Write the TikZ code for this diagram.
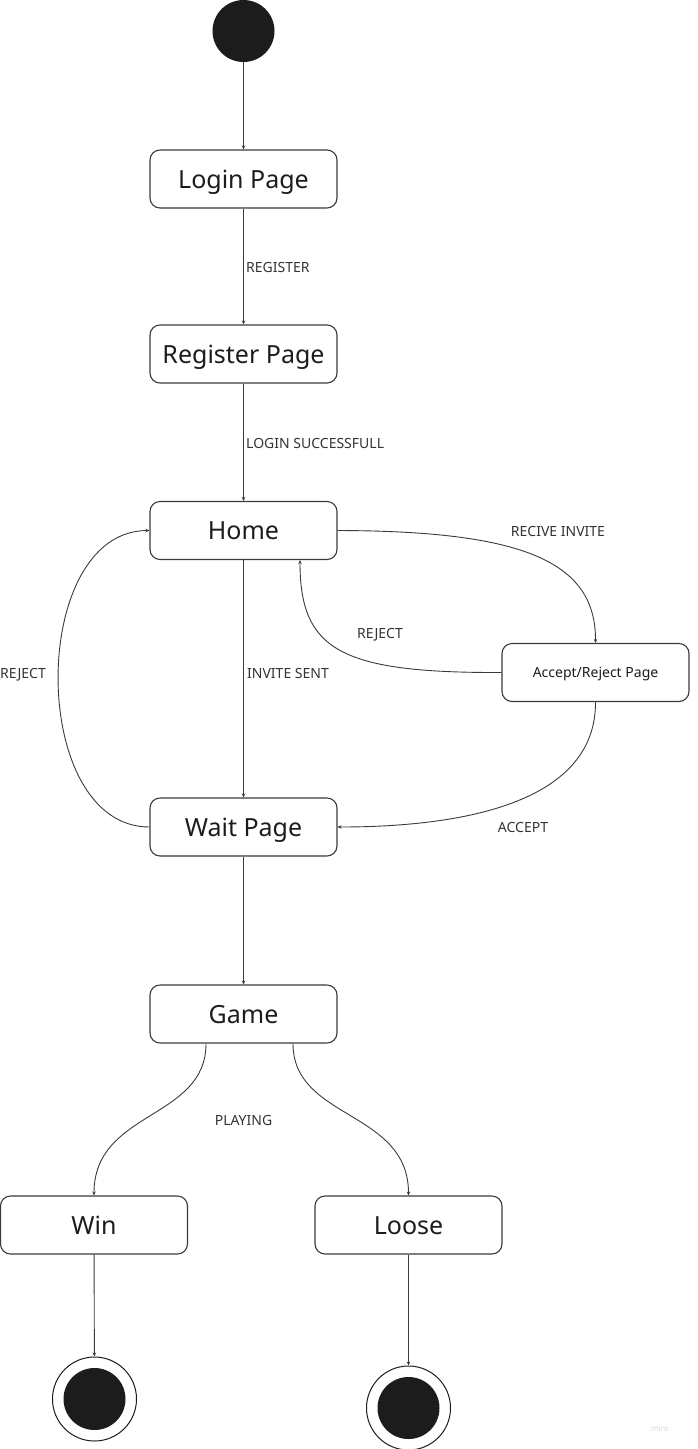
\documentclass[tikz,border=0pt]{standalone}
\usepackage{fontspec}
\setmainfont{Noto Sans}
\usetikzlibrary{arrows.meta}
\definecolor{ink}{HTML}{1C1C1C}
\definecolor{wire}{HTML}{3A3A3A}
\begin{document}
\begin{tikzpicture}[x = 1pt, y = -1pt,
        state/.style = {draw = wire, line width = 1.1pt, rounded corners = 10pt, minimum width = 187pt, minimum height = 58pt, inner sep = 0pt, text = ink, text height = 18pt, text depth = 0pt, font = \fontsize{25}{30}\selectfont},
        smallstate/.style = {state, text height = 10pt, font = \fontsize{14}{17}\selectfont},
        lbl/.style = {text = ink!90, inner sep = 0pt, text height = 10pt, text depth = 0pt, font = \fontsize{14}{17}\selectfont},
        edge/.style = {draw = wire, line width = 0.9pt, -{Stealth[length = 4pt, width = 3.5pt]}},
        startdot/.style = {circle, fill = ink, minimum size = 62pt, inner sep = 0pt},
        enddot/.style = {circle, draw = ink, line width = 1pt, minimum size = 84pt, inner sep = 0pt,
            path picture = {\fill[ink] (path picture bounding box.center) circle (31pt);}}]
        \useasboundingbox (0,0) rectangle (698,1449);
        % states
        \node[startdot] (start) at (243.5,31) {};
        \node[state] (login) at (243.5,179) {Login Page};
        \node[state] (register) at (243.5,354) {Register Page};
        \node[state] (home) at (243.5,530.5) {Home};
        \node[smallstate] (accept) at (595.5,672.5) {Accept/Reject Page};
        \node[state] (wait) at (243.5,827) {Wait Page};
        \node[state] (game) at (243.5,1014) {Game};
        \node[state] (win) at (94,1225) {Win};
        \node[state] (loose) at (408.5,1225) {Loose};
        \node[enddot] (winend) at (94.5,1399) {};
        \node[enddot] (looseend) at (408.5,1408) {};
        % transitions
        \begin{scope}[every path/.append style = {edge}]
            \draw (start) -- (login);
            \draw (login) -- (register);
            \draw (register) -- (home);
            \draw (home) -- (wait);
            \draw (home.east) .. controls (520,531) and (596,560) .. (accept.north);
            \draw (accept.west) .. controls (340,673) and (300,650) .. (home.south -| 300,0);
            \draw (accept.south) .. controls (596,800) and (470,827) .. (wait.east);
            \draw (wait.west) .. controls (28,827) and (28,531) .. (home.west);
            \draw (wait) -- (game);
            \draw (game.south -| 206,0) .. controls (206,1120) and (94,1110) .. (win.north);
            \draw (game.south -| 293,0) .. controls (293,1120) and (408.5,1110) .. (loose.north);
            \draw (win) -- (winend);
            \draw (loose) -- (looseend);
        \end{scope}
        % labels
        \node[lbl, anchor = west] (lregister) at (246,267) {REGISTER};
        \node[lbl, anchor = west] (lsuccess) at (246,443) {LOGIN SUCCESSFULL};
        \node[lbl, anchor = west] (linvite) at (247,673) {INVITE SENT};
        \node[lbl] (lreceive) at (558,531) {RECIVE INVITE};
        \node[lbl] (lrejecta) at (380,633) {REJECT};
        \node[lbl] (laccept) at (523,827) {ACCEPT};
        \node[lbl] (lrejectw) at (23,673) {REJECT};
        \node[lbl] (lplaying) at (243.5,1120) {PLAYING};
        \node[text = black!15, font = \fontsize{8}{10}\selectfont] (mark) at (660,1429) {miro};
    \end{tikzpicture}
\end{document}
